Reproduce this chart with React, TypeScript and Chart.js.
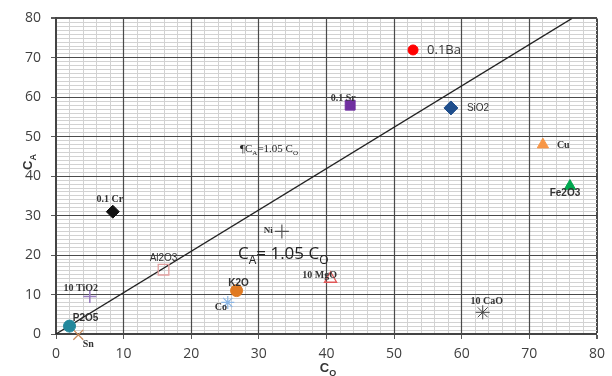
import React, { useEffect, useRef } from 'react';
import { Chart, registerables } from 'chart.js';

Chart.register(...registerables);

// ---- data ----
const pointNames = ['0.1Ba', '0.1 Sr', 'SiO2', 'Cu', 'Fe2O3', '0.1 Cr', 'Ni', 'Al2O3', '10 TiO2', 'K2O', 'Co', 'P2O5', 'Sn', '10 MgO', '10 CaO'];
const coValues = [52.8, 43.5, 58.4, 72.0, 76.0, 8.4, 33.4, 15.9, 5.0, 26.7, 25.4, 2.0, 3.3, 40.6, 63.1];
const caValues = [72.0, 58.0, 57.3, 48.0, 37.5, 31.0, 26.0, 16.3, 9.5, 11.0, 8.0, 2.0, -0.2, 14.0, 5.5];
const lineCo = [0, 76.3];
const lineCa = [0, 80];
const axisMin = 0;
const axisMax = 80;

// ---- styles ----
type PStyle = { style: string; color: string; fill: boolean; r: number; bw: number };
const pointStyles: PStyle[] = [
  { style: 'circle', color: '#ff0000', fill: true, r: 5, bw: 1 },
  { style: 'rect', color: '#7030a0', fill: true, r: 7, bw: 1 },
  { style: 'rectRot', color: '#1f4e8c', fill: true, r: 7, bw: 1 },
  { style: 'triangle', color: '#f79646', fill: true, r: 6.5, bw: 1 },
  { style: 'triangle', color: '#00a84f', fill: true, r: 6.5, bw: 1 },
  { style: 'rectRot', color: '#111111', fill: true, r: 6.5, bw: 1 },
  { style: 'cross', color: '#555555', fill: false, r: 7, bw: 1.2 },
  { style: 'rect', color: '#e3a0a0', fill: false, r: 7.5, bw: 1.3 },
  { style: 'cross', color: '#9b7fc0', fill: false, r: 6.5, bw: 1.6 },
  { style: 'circle', color: '#e07a22', fill: true, r: 6, bw: 1 },
  { style: 'star', color: '#8cb6e4', fill: false, r: 6.5, bw: 1.2 },
  { style: 'circle', color: '#23889c', fill: true, r: 6, bw: 1 },
  { style: 'crossRot', color: '#c8895a', fill: false, r: 7, bw: 1.3 },
  { style: 'triangle', color: '#e05858', fill: false, r: 7, bw: 1.3 },
  { style: 'star', color: '#444444', fill: false, r: 7, bw: 1 },
];

type LStyle = { dx: number; dy: number; align: CanvasTextAlign; font: string };
const serifB = 'bold 10px "Liberation Serif", "DejaVu Serif", serif';
const sans = '10px "Liberation Sans", "DejaVu Sans", sans-serif';
const labelStyles: LStyle[] = [
  { dx: 14, dy: 0, align: 'left', font: '13px "Open Sans", "Liberation Sans", sans-serif' },
  { dx: -7, dy: -7, align: 'center', font: serifB },
  { dx: 16, dy: 0, align: 'left', font: sans },
  { dx: 14, dy: 1, align: 'left', font: serifB },
  { dx: -5, dy: 7, align: 'center', font: 'bold 10px "Liberation Sans", sans-serif' },
  { dx: -3, dy: -12, align: 'center', font: serifB },
  { dx: -9, dy: -1, align: 'right', font: 'bold 9px "Liberation Serif", serif' },
  { dx: 0, dy: -11, align: 'center', font: sans },
  { dx: -9, dy: -8, align: 'center', font: serifB },
  { dx: 2, dy: -7, align: 'center', font: 'bold 10px "Liberation Sans", sans-serif' },
  { dx: -7, dy: 5, align: 'center', font: serifB },
  { dx: 16, dy: -8, align: 'center', font: 'bold 10px "Liberation Sans", sans-serif' },
  { dx: 10, dy: 10, align: 'center', font: serifB },
  { dx: -11, dy: -3, align: 'center', font: serifB },
  { dx: 4, dy: -11, align: 'center', font: serifB },
];

type Part = { t: string; sub?: boolean };
function drawParts(ctx: CanvasRenderingContext2D, parts: Part[], x: number, y: number, size: number, family: string, weight: string, color: string, align: 'left' | 'center') {
  const subSize = Math.round(size * 0.68);
  ctx.save();
  ctx.fillStyle = color;
  ctx.textBaseline = 'alphabetic';
  ctx.textAlign = 'left';
  let total = 0;
  const widths = parts.map((p) => {
    ctx.font = `${weight} ${p.sub ? subSize : size}px ${family}`;
    const w = ctx.measureText(p.t).width;
    total += w;
    return w;
  });
  let cx = align === 'center' ? x - total / 2 : x;
  parts.forEach((p, i) => {
    ctx.font = `${weight} ${p.sub ? subSize : size}px ${family}`;
    ctx.fillText(p.t, cx, p.sub ? y + size * 0.28 : y);
    cx += widths[i];
  });
  ctx.restore();
}

const align1 = (p: number) => Math.round(p - 0.5) + 0.5;

// redraw the major grid lines on top of the minor ones so they stay solid
const majorGridPlugin = {
  id: 'majorGrid',
  beforeDatasetsDraw(chart: any) {
    const ctx: CanvasRenderingContext2D = chart.ctx;
    const { left, right, top, bottom } = chart.chartArea;
    const xs = chart.scales.x;
    const ys = chart.scales.y;
    ctx.save();
    ctx.strokeStyle = '#4a4a4a';
    ctx.lineWidth = 1.2;
    xs.ticks.forEach((t: any) => {
      if (t.value % 10 !== 0 || t.value === axisMin || t.value === axisMax) return;
      const px = align1(xs.getPixelForValue(t.value));
      ctx.beginPath();
      ctx.moveTo(px, top);
      ctx.lineTo(px, bottom);
      ctx.stroke();
    });
    ys.ticks.forEach((t: any) => {
      if (t.value % 10 !== 0 || t.value === axisMin || t.value === axisMax) return;
      const py = align1(ys.getPixelForValue(t.value));
      ctx.beginPath();
      ctx.moveTo(left, py);
      ctx.lineTo(right, py);
      ctx.stroke();
    });
    ctx.restore();
  },
};

const labelPlugin = {
  id: 'labels',
  afterDatasetsDraw(chart: any) {
    const ctx: CanvasRenderingContext2D = chart.ctx;
    const xs = chart.scales.x;
    const ys = chart.scales.y;
    ctx.save();
    ctx.fillStyle = '#333333';
    ctx.textBaseline = 'middle';
    pointNames.forEach((name, i) => {
      const st = labelStyles[i];
      const px = xs.getPixelForValue(coValues[i]);
      const py = ys.getPixelForValue(caValues[i]);
      ctx.font = st.font;
      ctx.textAlign = st.align;
      ctx.fillText(name, px + st.dx, py + st.dy);
    });
    ctx.restore();

    // annotations
    drawParts(ctx, [{ t: 'C' }, { t: 'A', sub: true }, { t: '= 1.05 C' }, { t: 'O', sub: true }], 238, 259, 17,
      '"Open Sans", "Liberation Sans", sans-serif', 'normal', '#222222', 'left');
    drawParts(ctx, [{ t: '¶C' }, { t: 'A', sub: true }, { t: '=1.05 C' }, { t: 'O', sub: true }], 240, 152, 11,
      '"Liberation Serif", "DejaVu Serif", serif', 'normal', '#222222', 'left');

    // axis titles
    drawParts(ctx, [{ t: 'C' }, { t: 'O', sub: true }], 328, 372, 13, '"Liberation Sans", sans-serif', 'bold', '#333333', 'center');
    ctx.save();
    ctx.translate(32, 162);
    ctx.rotate(-Math.PI / 2);
    drawParts(ctx, [{ t: 'C' }, { t: 'A', sub: true }], 0, 0, 13, '"Liberation Sans", sans-serif', 'bold', '#333333', 'center');
    ctx.restore();
  },
};

export default function App() {
  const ref = useRef<HTMLCanvasElement | null>(null);

  useEffect(() => {
    document.body.style.margin = '0';
    if (!ref.current) return;
    const datasets: any[] = pointNames.map((name, i) => {
      const s = pointStyles[i];
      return {
        label: name,
        data: [{ x: coValues[i], y: caValues[i] }],
        pointStyle: s.style,
        pointRadius: s.r,
        pointBorderWidth: s.bw,
        pointBorderColor: s.color,
        pointBackgroundColor: s.fill ? s.color : 'rgba(0,0,0,0)',
        clip: false,
        order: 1,
      };
    });
    datasets.unshift({
      label: 'line',
      data: lineCo.map((x, i) => ({ x, y: lineCa[i] })),
      showLine: true,
      borderColor: '#222222',
      borderWidth: 1.3,
      pointRadius: 0,
      order: 2,
    });

    const gridColor = (c: any) => (c.tick && c.tick.value % 10 === 0 ? '#4a4a4a' : '#d2d2d2');
    const gridWidth = (c: any) => (c.tick && c.tick.value === axisMax ? 2 : 1);
    const tickColor = (c: any) => (c.tick && c.tick.value % 10 === 0 ? '#5a5a5a' : 'rgba(0,0,0,0)');
    const tickFont = { family: '"Open Sans", "Liberation Sans", sans-serif', size: 14 };

    const chart = new Chart(ref.current, {
      type: 'scatter',
      data: { datasets },
      plugins: [majorGridPlugin, labelPlugin],
      options: {
        responsive: false,
        animation: false,
        layout: { padding: { top: 16, right: 11, left: 0, bottom: 0 } },
        plugins: { legend: { display: false }, tooltip: { enabled: false } },
        scales: {
          x: {
            type: 'linear',
            min: axisMin,
            max: axisMax,
            afterFit: (s: any) => { s.height = 42; },
            ticks: {
              stepSize: 2,
              autoSkip: false,
              maxRotation: 0,
              padding: 7,
              color: '#404040',
              font: tickFont,
              callback: (v: any) => (Number(v) % 10 === 0 ? String(v) : ''),
            },
            grid: { color: gridColor, lineWidth: gridWidth, tickColor, tickLength: 5 },
            border: { color: '#444444', width: 2 },
          },
          y: {
            type: 'linear',
            min: axisMin,
            max: axisMax,
            afterFit: (s: any) => { s.width = 56; },
            ticks: {
              stepSize: 1,
              autoSkip: false,
              padding: 10,
              color: '#404040',
              font: tickFont,
              callback: (v: any) => (Number(v) % 10 === 0 ? String(v) : ''),
            },
            grid: { color: gridColor, lineWidth: gridWidth, tickColor, tickLength: 5 },
            border: { color: '#444444', width: 2 },
          },
        },
      } as any,
    });
    return () => chart.destroy();
  }, []);

  return (
    <div style={{ position: 'absolute', left: 0, top: 0, width: 612, height: 376, background: '#ffffff' }}>
      <canvas ref={ref} width={612} height={376} style={{ width: 612, height: 376, display: 'block' }} />
    </div>
  );
}
